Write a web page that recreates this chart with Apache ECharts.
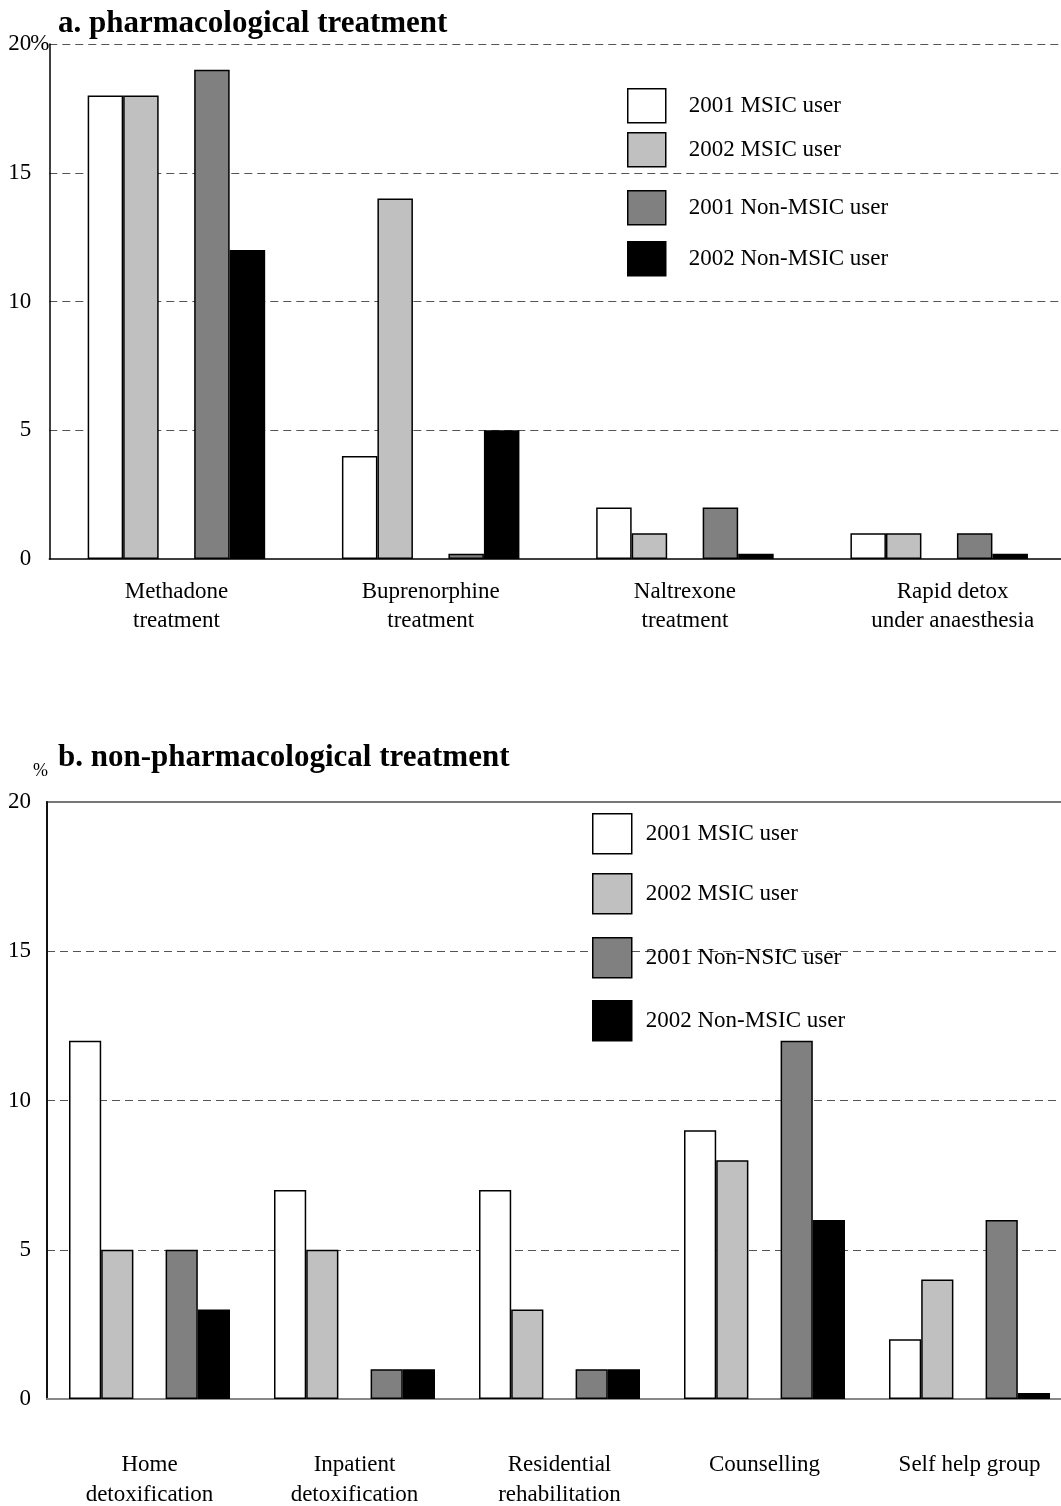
<!DOCTYPE html>
<html>
<head>
<meta charset="utf-8">
<script src="https://cdn.jsdelivr.net/npm/echarts@6/dist/echarts.min.js"></script>
<style>
html,body{margin:0;padding:0;background:#fff;}
#c{width:1061px;height:1506px;}
</style>
</head>
<body>
<div id="c"></div>
<script>
// ---- Data ----
const catA = ['Methadone\ntreatment', 'Buprenorphine\ntreatment', 'Naltrexone\ntreatment', 'Rapid detox\nunder anaesthesia'];
const a2001MSIC = [18, 4, 2, 1];
const a2002MSIC = [18, 14, 1, 1];
const a2001Non  = [19, 0.2, 2, 1];
const a2002Non  = [12, 5, 0.2, 0.2];

const catB = ['Home\ndetoxification', 'Inpatient\ndetoxification', 'Residential\nrehabilitation', 'Counselling', 'Self help group'];
const b2001MSIC = [12, 7, 7, 9, 2];
const b2002MSIC = [5, 5, 3, 8, 4];
const b2001Non  = [5, 1, 1, 12, 6];
const b2002Non  = [3, 1, 1, 6, 0.2];

const namesA = ['2001 MSIC user', '2002 MSIC user', '2001 Non-MSIC user', '2002 Non-MSIC user'];
const namesB = ['2001 MSIC user ', '2002 MSIC user ', '2001 Non-NSIC user', '2002 Non-MSIC user '];
const colors = ['#ffffff', '#c0c0c0', '#808080', '#000000'];

const FONT = '"Liberation Serif", "DejaVu Serif", serif';
const FS = 23;

function mkSeries(name, data, color, idx, bw) {
  return {
    name: name, type: 'bar', data: data, xAxisIndex: idx, yAxisIndex: idx,
    barWidth: bw, barGap: '0%',
    itemStyle: { color: color, borderColor: '#000', borderWidth: 1.5 },
    emphasis: { disabled: true }
  };
}
function gapSeries(n, idx, bw) {
  return { name: '_gap' + idx, type: 'bar', data: new Array(n).fill(null), xAxisIndex: idx, yAxisIndex: idx, barWidth: bw, barGap: '0%', silent: true };
}

const seriesA = [
  mkSeries(namesA[0], a2001MSIC, colors[0], 0, 35.5),
  mkSeries(namesA[1], a2002MSIC, colors[1], 0, 35.5),
  gapSeries(catA.length, 0, 35.5),
  mkSeries(namesA[2], a2001Non, colors[2], 0, 35.5),
  mkSeries(namesA[3], a2002Non, colors[3], 0, 35.5)
];
const seriesB = [
  mkSeries(namesB[0], b2001MSIC, colors[0], 1, 32.2),
  mkSeries(namesB[1], b2002MSIC, colors[1], 1, 32.2),
  gapSeries(catB.length, 1, 32.2),
  mkSeries(namesB[2], b2001Non, colors[2], 1, 32.2),
  mkSeries(namesB[3], b2002Non, colors[3], 1, 32.2)
];

function mkLegend(name, left, top, w, h, gap) {
  return {
    data: [name], left: left, top: top, itemWidth: w, itemHeight: h, icon: 'rect',
    padding: 0, selectedMode: false,
    formatter: function (n) { return n.trim(); },
    itemStyle: { borderColor: '#000', borderWidth: 1.5 },
    textStyle: { fontFamily: FONT, fontSize: FS, color: '#000', padding: [0, 0, 0, gap] }
  };
}

const topsA = [88, 132, 190, 241];
const topsB = [813, 873, 937, 1000];
const legends = [];
namesA.forEach((n, i) => legends.push(mkLegend(n, 627, topsA[i], 38, 34, 18)));
namesB.forEach((n, i) => legends.push(mkLegend(n, 592, topsB[i], 39, 40, 9)));

const dashed = { show: true, lineStyle: { color: '#555', width: 1, type: [8, 5] } };

const option = {
  animation: false,
  backgroundColor: '#fff',
  title: [
    { text: 'a. pharmacological treatment', left: 58, top: 8, padding: 0, textStyle: { fontFamily: FONT, fontSize: 31, fontWeight: 'bold', color: '#000' } },
    { text: 'b. non-pharmacological treatment', left: 58, top: 742, padding: 0, textStyle: { fontFamily: FONT, fontSize: 31, fontWeight: 'bold', color: '#000' } }
  ],
  graphic: [
    { type: 'text', left: 33, top: 762, style: { text: '%', fontFamily: FONT, fontSize: 18, fill: '#000' } }
  ],
  legend: legends,
  grid: [
    { left: 49.3, top: 44, width: 1017, height: 515, outerBoundsMode: 'none' },
    { left: 47, top: 802, width: 1025, height: 597, outerBoundsMode: 'none', show: true, borderColor: '#777', borderWidth: 2, backgroundColor: 'transparent' }
  ],
  xAxis: [
    {
      type: 'category', gridIndex: 0, data: catA,
      axisLine: { show: true, lineStyle: { color: '#000', width: 1.5 } },
      axisTick: { show: false },
      axisLabel: {
        interval: 0, margin: 18, fontFamily: FONT, fontSize: FS, color: '#000', lineHeight: 29,
        formatter: function (v, i) { return i === 3 ? '{r|' + v.split('\n').join('}\n{r|') + '}' : v; },
        rich: { r: { fontFamily: FONT, fontSize: FS, lineHeight: 29, padding: [0, 0, 0, 27] } }
      }
    },
    {
      type: 'category', gridIndex: 1, data: catB,
      axisLine: { show: true, lineStyle: { color: '#888', width: 2 } },
      axisTick: { show: false },
      axisLabel: { interval: 0, margin: 51, fontFamily: FONT, fontSize: FS, color: '#000', lineHeight: 30 }
    }
  ],
  yAxis: [
    {
      type: 'value', gridIndex: 0, min: 0, max: 20, interval: 5,
      axisLine: { show: true, lineStyle: { color: '#000', width: 1.5 } },
      axisTick: { show: false },
      splitLine: Object.assign({}, dashed, { showMinLine: false }),
      axisLabel: {
        margin: 0, fontFamily: FONT, fontSize: FS, color: '#000',
        formatter: function (v) { return v === 20 ? '{n|20}{p|%}' : '{n|' + v + '}{s|}'; },
        rich: { n: { fontFamily: FONT, fontSize: FS, color: '#000' }, p: { fontFamily: FONT, fontSize: FS, color: '#000', width: 18 }, s: { width: 18 } }
      }
    },
    {
      type: 'value', gridIndex: 1, min: 0, max: 20, interval: 5,
      axisLine: { show: true, lineStyle: { color: '#111', width: 2 } },
      axisTick: { show: false },
      splitLine: Object.assign({}, dashed, { showMinLine: false, showMaxLine: false }),
      axisLabel: { margin: 16, fontFamily: FONT, fontSize: FS, color: '#000' }
    }
  ],
  series: seriesA.concat(seriesB)
};

const chart = echarts.init(document.getElementById('c'), null, { renderer: 'canvas' });
chart.setOption(option);
</script>
</body>
</html>
